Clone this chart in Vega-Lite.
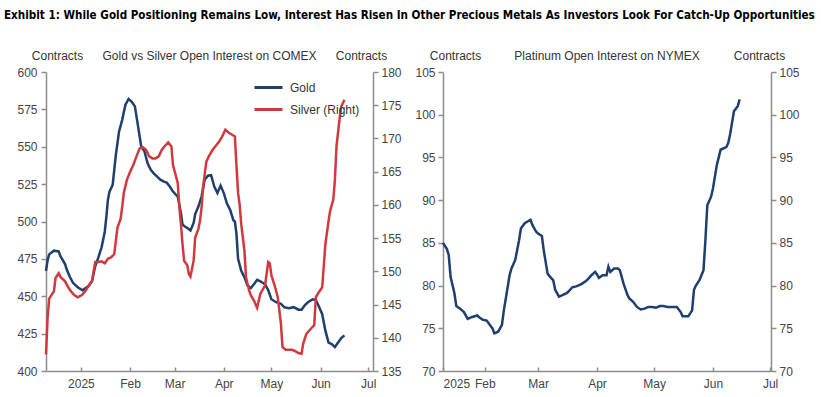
{
  "$schema": "https://vega.github.io/schema/vega-lite/v6.json",
  "padding": {"left": 3, "top": 10, "right": 3, "bottom": 4},
  "title": {"text": "Exhibit 1: While Gold Positioning Remains Low, Interest Has Risen In Other Precious Metals As Investors Look For Catch-Up Opportunities", "anchor": "start", "font": "DejaVu Sans Condensed", "fontSize": 11.6, "fontWeight": "bold", "color": "#000000", "offset": 27, "dx": -13},
  "config": {
    "view": {"stroke": null},
    "font": "Liberation Sans",
    "axis": {"grid": false, "domainColor": "#8c8c8c", "tickColor": "#8c8c8c", "labelColor": "#444444", "labelFontSize": 12, "labelFont": "Liberation Sans", "titleFont": "Liberation Sans", "titleFontSize": 12, "titleFontWeight": "normal", "titleColor": "#333333", "domainWidth": 1.5, "tickWidth": 1.5}
  },
  "datasets": {
    "gold": [
      {"series": "Gold", "date": "2024-12-10", "value": 467},
      {"series": "Gold", "date": "2024-12-11", "value": 474},
      {"series": "Gold", "date": "2024-12-12", "value": 478},
      {"series": "Gold", "date": "2024-12-15", "value": 480.5},
      {"series": "Gold", "date": "2024-12-18", "value": 480},
      {"series": "Gold", "date": "2024-12-19", "value": 477},
      {"series": "Gold", "date": "2024-12-22", "value": 471.5},
      {"series": "Gold", "date": "2024-12-23", "value": 468},
      {"series": "Gold", "date": "2024-12-25", "value": 463},
      {"series": "Gold", "date": "2024-12-27", "value": 459},
      {"series": "Gold", "date": "2024-12-30", "value": 456},
      {"series": "Gold", "date": "2025-01-02", "value": 454},
      {"series": "Gold", "date": "2025-01-04", "value": 455.5},
      {"series": "Gold", "date": "2025-01-06", "value": 457},
      {"series": "Gold", "date": "2025-01-08", "value": 460},
      {"series": "Gold", "date": "2025-01-10", "value": 470},
      {"series": "Gold", "date": "2025-01-12", "value": 476},
      {"series": "Gold", "date": "2025-01-14", "value": 482.7},
      {"series": "Gold", "date": "2025-01-16", "value": 493},
      {"series": "Gold", "date": "2025-01-17", "value": 503},
      {"series": "Gold", "date": "2025-01-18", "value": 514.5},
      {"series": "Gold", "date": "2025-01-19", "value": 520},
      {"series": "Gold", "date": "2025-01-21", "value": 524.5},
      {"series": "Gold", "date": "2025-01-23", "value": 544.6},
      {"series": "Gold", "date": "2025-01-25", "value": 560},
      {"series": "Gold", "date": "2025-01-27", "value": 568},
      {"series": "Gold", "date": "2025-01-29", "value": 578},
      {"series": "Gold", "date": "2025-01-31", "value": 582},
      {"series": "Gold", "date": "2025-02-02", "value": 580},
      {"series": "Gold", "date": "2025-02-04", "value": 577},
      {"series": "Gold", "date": "2025-02-06", "value": 563.6},
      {"series": "Gold", "date": "2025-02-08", "value": 550},
      {"series": "Gold", "date": "2025-02-10", "value": 547},
      {"series": "Gold", "date": "2025-02-12", "value": 539},
      {"series": "Gold", "date": "2025-02-14", "value": 534.6},
      {"series": "Gold", "date": "2025-02-16", "value": 532},
      {"series": "Gold", "date": "2025-02-18", "value": 530},
      {"series": "Gold", "date": "2025-02-20", "value": 528},
      {"series": "Gold", "date": "2025-02-22", "value": 526.8},
      {"series": "Gold", "date": "2025-02-24", "value": 526},
      {"series": "Gold", "date": "2025-02-26", "value": 523.4},
      {"series": "Gold", "date": "2025-02-28", "value": 520},
      {"series": "Gold", "date": "2025-03-03", "value": 516.7},
      {"series": "Gold", "date": "2025-03-05", "value": 505.6},
      {"series": "Gold", "date": "2025-03-06", "value": 498},
      {"series": "Gold", "date": "2025-03-07", "value": 497},
      {"series": "Gold", "date": "2025-03-09", "value": 495.6},
      {"series": "Gold", "date": "2025-03-11", "value": 494},
      {"series": "Gold", "date": "2025-03-13", "value": 499},
      {"series": "Gold", "date": "2025-03-14", "value": 505},
      {"series": "Gold", "date": "2025-03-16", "value": 510},
      {"series": "Gold", "date": "2025-03-18", "value": 516.7},
      {"series": "Gold", "date": "2025-03-20", "value": 528},
      {"series": "Gold", "date": "2025-03-22", "value": 530.6},
      {"series": "Gold", "date": "2025-03-24", "value": 531},
      {"series": "Gold", "date": "2025-03-26", "value": 523.4},
      {"series": "Gold", "date": "2025-03-28", "value": 519},
      {"series": "Gold", "date": "2025-03-30", "value": 524},
      {"series": "Gold", "date": "2025-04-01", "value": 519},
      {"series": "Gold", "date": "2025-04-03", "value": 512},
      {"series": "Gold", "date": "2025-04-05", "value": 507.8},
      {"series": "Gold", "date": "2025-04-07", "value": 501},
      {"series": "Gold", "date": "2025-04-08", "value": 500},
      {"series": "Gold", "date": "2025-04-09", "value": 491.5},
      {"series": "Gold", "date": "2025-04-10", "value": 475},
      {"series": "Gold", "date": "2025-04-12", "value": 467},
      {"series": "Gold", "date": "2025-04-14", "value": 462.7},
      {"series": "Gold", "date": "2025-04-16", "value": 457},
      {"series": "Gold", "date": "2025-04-18", "value": 455.5},
      {"series": "Gold", "date": "2025-04-20", "value": 458},
      {"series": "Gold", "date": "2025-04-22", "value": 461},
      {"series": "Gold", "date": "2025-04-24", "value": 460},
      {"series": "Gold", "date": "2025-04-27", "value": 458},
      {"series": "Gold", "date": "2025-04-29", "value": 454},
      {"series": "Gold", "date": "2025-05-01", "value": 448},
      {"series": "Gold", "date": "2025-05-04", "value": 446},
      {"series": "Gold", "date": "2025-05-07", "value": 445},
      {"series": "Gold", "date": "2025-05-09", "value": 442.7},
      {"series": "Gold", "date": "2025-05-12", "value": 442},
      {"series": "Gold", "date": "2025-05-15", "value": 442.7},
      {"series": "Gold", "date": "2025-05-18", "value": 441},
      {"series": "Gold", "date": "2025-05-20", "value": 441},
      {"series": "Gold", "date": "2025-05-22", "value": 444},
      {"series": "Gold", "date": "2025-05-24", "value": 446},
      {"series": "Gold", "date": "2025-05-27", "value": 448},
      {"series": "Gold", "date": "2025-05-29", "value": 447.5},
      {"series": "Gold", "date": "2025-05-31", "value": 443},
      {"series": "Gold", "date": "2025-06-02", "value": 438},
      {"series": "Gold", "date": "2025-06-04", "value": 427},
      {"series": "Gold", "date": "2025-06-06", "value": 419},
      {"series": "Gold", "date": "2025-06-08", "value": 418},
      {"series": "Gold", "date": "2025-06-10", "value": 416},
      {"series": "Gold", "date": "2025-06-12", "value": 419},
      {"series": "Gold", "date": "2025-06-14", "value": 422},
      {"series": "Gold", "date": "2025-06-16", "value": 423.8}
    ],
    "silver": [
      {"series": "Silver (Right)", "date": "2024-12-10", "value": 137.5},
      {"series": "Silver (Right)", "date": "2024-12-11", "value": 143},
      {"series": "Silver (Right)", "date": "2024-12-12", "value": 145.9},
      {"series": "Silver (Right)", "date": "2024-12-15", "value": 147},
      {"series": "Silver (Right)", "date": "2024-12-16", "value": 149},
      {"series": "Silver (Right)", "date": "2024-12-18", "value": 149.7},
      {"series": "Silver (Right)", "date": "2024-12-19", "value": 149.2},
      {"series": "Silver (Right)", "date": "2024-12-22", "value": 148.5},
      {"series": "Silver (Right)", "date": "2024-12-24", "value": 147.6},
      {"series": "Silver (Right)", "date": "2024-12-26", "value": 146.9},
      {"series": "Silver (Right)", "date": "2024-12-28", "value": 146.4},
      {"series": "Silver (Right)", "date": "2024-12-30", "value": 146.1},
      {"series": "Silver (Right)", "date": "2025-01-02", "value": 146.5},
      {"series": "Silver (Right)", "date": "2025-01-04", "value": 147.1},
      {"series": "Silver (Right)", "date": "2025-01-06", "value": 147.9},
      {"series": "Silver (Right)", "date": "2025-01-08", "value": 148.6},
      {"series": "Silver (Right)", "date": "2025-01-10", "value": 151.4},
      {"series": "Silver (Right)", "date": "2025-01-12", "value": 151.4},
      {"series": "Silver (Right)", "date": "2025-01-14", "value": 151.5},
      {"series": "Silver (Right)", "date": "2025-01-16", "value": 151.2},
      {"series": "Silver (Right)", "date": "2025-01-18", "value": 151.9},
      {"series": "Silver (Right)", "date": "2025-01-20", "value": 152.1},
      {"series": "Silver (Right)", "date": "2025-01-22", "value": 152.6},
      {"series": "Silver (Right)", "date": "2025-01-24", "value": 156.6},
      {"series": "Silver (Right)", "date": "2025-01-26", "value": 157.9},
      {"series": "Silver (Right)", "date": "2025-01-27", "value": 159.7},
      {"series": "Silver (Right)", "date": "2025-01-28", "value": 161.8},
      {"series": "Silver (Right)", "date": "2025-01-30", "value": 163.8},
      {"series": "Silver (Right)", "date": "2025-02-01", "value": 165},
      {"series": "Silver (Right)", "date": "2025-02-03", "value": 166},
      {"series": "Silver (Right)", "date": "2025-02-05", "value": 167.3},
      {"series": "Silver (Right)", "date": "2025-02-07", "value": 168.5},
      {"series": "Silver (Right)", "date": "2025-02-09", "value": 168.7},
      {"series": "Silver (Right)", "date": "2025-02-11", "value": 168.3},
      {"series": "Silver (Right)", "date": "2025-02-13", "value": 167.3},
      {"series": "Silver (Right)", "date": "2025-02-15", "value": 167},
      {"series": "Silver (Right)", "date": "2025-02-17", "value": 167},
      {"series": "Silver (Right)", "date": "2025-02-19", "value": 167.3},
      {"series": "Silver (Right)", "date": "2025-02-21", "value": 168.3},
      {"series": "Silver (Right)", "date": "2025-02-23", "value": 168.9},
      {"series": "Silver (Right)", "date": "2025-02-25", "value": 169.4},
      {"series": "Silver (Right)", "date": "2025-02-27", "value": 168.8},
      {"series": "Silver (Right)", "date": "2025-02-28", "value": 166},
      {"series": "Silver (Right)", "date": "2025-03-03", "value": 163.3},
      {"series": "Silver (Right)", "date": "2025-03-04", "value": 159.7},
      {"series": "Silver (Right)", "date": "2025-03-05", "value": 157.1},
      {"series": "Silver (Right)", "date": "2025-03-06", "value": 154.1},
      {"series": "Silver (Right)", "date": "2025-03-07", "value": 151.6},
      {"series": "Silver (Right)", "date": "2025-03-09", "value": 150.9},
      {"series": "Silver (Right)", "date": "2025-03-10", "value": 149.6},
      {"series": "Silver (Right)", "date": "2025-03-11", "value": 149.2},
      {"series": "Silver (Right)", "date": "2025-03-13", "value": 151.6},
      {"series": "Silver (Right)", "date": "2025-03-14", "value": 155.1},
      {"series": "Silver (Right)", "date": "2025-03-16", "value": 156.4},
      {"series": "Silver (Right)", "date": "2025-03-17", "value": 157.6},
      {"series": "Silver (Right)", "date": "2025-03-18", "value": 159.6},
      {"series": "Silver (Right)", "date": "2025-03-19", "value": 162.8},
      {"series": "Silver (Right)", "date": "2025-03-21", "value": 166.5},
      {"series": "Silver (Right)", "date": "2025-03-23", "value": 167.5},
      {"series": "Silver (Right)", "date": "2025-03-25", "value": 168.3},
      {"series": "Silver (Right)", "date": "2025-03-27", "value": 168.9},
      {"series": "Silver (Right)", "date": "2025-03-29", "value": 169.5},
      {"series": "Silver (Right)", "date": "2025-03-31", "value": 170.3},
      {"series": "Silver (Right)", "date": "2025-04-02", "value": 171.3},
      {"series": "Silver (Right)", "date": "2025-04-04", "value": 170.9},
      {"series": "Silver (Right)", "date": "2025-04-06", "value": 170.6},
      {"series": "Silver (Right)", "date": "2025-04-08", "value": 170.3},
      {"series": "Silver (Right)", "date": "2025-04-09", "value": 165.8},
      {"series": "Silver (Right)", "date": "2025-04-10", "value": 161.8},
      {"series": "Silver (Right)", "date": "2025-04-11", "value": 160},
      {"series": "Silver (Right)", "date": "2025-04-12", "value": 157.1},
      {"series": "Silver (Right)", "date": "2025-04-14", "value": 153.1},
      {"series": "Silver (Right)", "date": "2025-04-15", "value": 149.1},
      {"series": "Silver (Right)", "date": "2025-04-17", "value": 147.1},
      {"series": "Silver (Right)", "date": "2025-04-18", "value": 146.4},
      {"series": "Silver (Right)", "date": "2025-04-20", "value": 145.6},
      {"series": "Silver (Right)", "date": "2025-04-22", "value": 144.5},
      {"series": "Silver (Right)", "date": "2025-04-24", "value": 146.6},
      {"series": "Silver (Right)", "date": "2025-04-27", "value": 147.9},
      {"series": "Silver (Right)", "date": "2025-04-29", "value": 151.4},
      {"series": "Silver (Right)", "date": "2025-04-30", "value": 151.2},
      {"series": "Silver (Right)", "date": "2025-05-01", "value": 149.4},
      {"series": "Silver (Right)", "date": "2025-05-03", "value": 147.9},
      {"series": "Silver (Right)", "date": "2025-05-05", "value": 146.1},
      {"series": "Silver (Right)", "date": "2025-05-07", "value": 142.1},
      {"series": "Silver (Right)", "date": "2025-05-08", "value": 138.6},
      {"series": "Silver (Right)", "date": "2025-05-10", "value": 138.2},
      {"series": "Silver (Right)", "date": "2025-05-12", "value": 138.2},
      {"series": "Silver (Right)", "date": "2025-05-14", "value": 138.2},
      {"series": "Silver (Right)", "date": "2025-05-16", "value": 138},
      {"series": "Silver (Right)", "date": "2025-05-18", "value": 137.7},
      {"series": "Silver (Right)", "date": "2025-05-20", "value": 137.6},
      {"series": "Silver (Right)", "date": "2025-05-21", "value": 139.1},
      {"series": "Silver (Right)", "date": "2025-05-23", "value": 140.6},
      {"series": "Silver (Right)", "date": "2025-05-26", "value": 141.4},
      {"series": "Silver (Right)", "date": "2025-05-28", "value": 141.9},
      {"series": "Silver (Right)", "date": "2025-05-29", "value": 146.1},
      {"series": "Silver (Right)", "date": "2025-05-31", "value": 146.9},
      {"series": "Silver (Right)", "date": "2025-06-02", "value": 147.6},
      {"series": "Silver (Right)", "date": "2025-06-04", "value": 154.1},
      {"series": "Silver (Right)", "date": "2025-06-06", "value": 157.6},
      {"series": "Silver (Right)", "date": "2025-06-07", "value": 159.1},
      {"series": "Silver (Right)", "date": "2025-06-09", "value": 160.8},
      {"series": "Silver (Right)", "date": "2025-06-10", "value": 163.8},
      {"series": "Silver (Right)", "date": "2025-06-11", "value": 168.8},
      {"series": "Silver (Right)", "date": "2025-06-13", "value": 173.1},
      {"series": "Silver (Right)", "date": "2025-06-14", "value": 174.8},
      {"series": "Silver (Right)", "date": "2025-06-16", "value": 175.8}
    ],
    "platinum": [
      {"date": "2025-01-10", "value": 85},
      {"date": "2025-01-12", "value": 84.3},
      {"date": "2025-01-13", "value": 83.6},
      {"date": "2025-01-14", "value": 81},
      {"date": "2025-01-16", "value": 79.1},
      {"date": "2025-01-17", "value": 77.6},
      {"date": "2025-01-19", "value": 77.3},
      {"date": "2025-01-21", "value": 76.9},
      {"date": "2025-01-23", "value": 76.1},
      {"date": "2025-01-25", "value": 76.3},
      {"date": "2025-01-28", "value": 76.5},
      {"date": "2025-01-29", "value": 76.3},
      {"date": "2025-01-31", "value": 76},
      {"date": "2025-02-02", "value": 75.9},
      {"date": "2025-02-03", "value": 75.6},
      {"date": "2025-02-05", "value": 75},
      {"date": "2025-02-06", "value": 74.4},
      {"date": "2025-02-08", "value": 74.6},
      {"date": "2025-02-09", "value": 75},
      {"date": "2025-02-10", "value": 75.4},
      {"date": "2025-02-11", "value": 77.1},
      {"date": "2025-02-13", "value": 79.8},
      {"date": "2025-02-14", "value": 81.2},
      {"date": "2025-02-15", "value": 82},
      {"date": "2025-02-17", "value": 83},
      {"date": "2025-02-19", "value": 85.3},
      {"date": "2025-02-20", "value": 86.7},
      {"date": "2025-02-22", "value": 87.3},
      {"date": "2025-02-25", "value": 87.7},
      {"date": "2025-02-26", "value": 87.1},
      {"date": "2025-02-28", "value": 86.3},
      {"date": "2025-03-01", "value": 86.1},
      {"date": "2025-03-03", "value": 85.8},
      {"date": "2025-03-04", "value": 84.1},
      {"date": "2025-03-06", "value": 81.4},
      {"date": "2025-03-07", "value": 81.1},
      {"date": "2025-03-09", "value": 80.6},
      {"date": "2025-03-10", "value": 79.5},
      {"date": "2025-03-12", "value": 78.7},
      {"date": "2025-03-13", "value": 78.8},
      {"date": "2025-03-16", "value": 79.1},
      {"date": "2025-03-17", "value": 79.3},
      {"date": "2025-03-19", "value": 79.8},
      {"date": "2025-03-21", "value": 79.9},
      {"date": "2025-03-22", "value": 80},
      {"date": "2025-03-24", "value": 80.2},
      {"date": "2025-03-26", "value": 80.5},
      {"date": "2025-03-27", "value": 80.7},
      {"date": "2025-03-29", "value": 81.2},
      {"date": "2025-03-31", "value": 81.6},
      {"date": "2025-04-01", "value": 81.3},
      {"date": "2025-04-02", "value": 80.9},
      {"date": "2025-04-04", "value": 81.2},
      {"date": "2025-04-06", "value": 81.2},
      {"date": "2025-04-07", "value": 82.2},
      {"date": "2025-04-08", "value": 81.6},
      {"date": "2025-04-10", "value": 82},
      {"date": "2025-04-12", "value": 82},
      {"date": "2025-04-13", "value": 81.8},
      {"date": "2025-04-15", "value": 80.2},
      {"date": "2025-04-17", "value": 78.9},
      {"date": "2025-04-18", "value": 78.5},
      {"date": "2025-04-20", "value": 78.1},
      {"date": "2025-04-22", "value": 77.5},
      {"date": "2025-04-24", "value": 77.2},
      {"date": "2025-04-26", "value": 77.3},
      {"date": "2025-04-28", "value": 77.5},
      {"date": "2025-04-30", "value": 77.5},
      {"date": "2025-05-02", "value": 77.4},
      {"date": "2025-05-04", "value": 77.6},
      {"date": "2025-05-06", "value": 77.6},
      {"date": "2025-05-08", "value": 77.5},
      {"date": "2025-05-11", "value": 77.5},
      {"date": "2025-05-13", "value": 77.5},
      {"date": "2025-05-15", "value": 76.9},
      {"date": "2025-05-16", "value": 76.4},
      {"date": "2025-05-18", "value": 76.4},
      {"date": "2025-05-19", "value": 76.4},
      {"date": "2025-05-21", "value": 77.1},
      {"date": "2025-05-22", "value": 79.5},
      {"date": "2025-05-23", "value": 80},
      {"date": "2025-05-25", "value": 80.7},
      {"date": "2025-05-27", "value": 81.8},
      {"date": "2025-05-28", "value": 85.3},
      {"date": "2025-05-29", "value": 89.4},
      {"date": "2025-05-31", "value": 90.4},
      {"date": "2025-06-01", "value": 91.4},
      {"date": "2025-06-03", "value": 94.1},
      {"date": "2025-06-05", "value": 95.9},
      {"date": "2025-06-08", "value": 96.2},
      {"date": "2025-06-09", "value": 96.7},
      {"date": "2025-06-10", "value": 97.7},
      {"date": "2025-06-12", "value": 100.4},
      {"date": "2025-06-14", "value": 101},
      {"date": "2025-06-15", "value": 101.8}
    ]
  },
  "bounds": "flush",
  "spacing": 70,
  "hconcat": [
    {
      "width": 327,
      "height": 299,
      "title": {"text": "Gold vs Silver Open Interest on COMEX", "font": "Liberation Sans", "fontSize": 12, "fontWeight": "normal", "color": "#333333", "offset": -14},
      "encoding": {
        "x": {
          "field": "date", "type": "temporal",
          "scale": {"type": "utc", "domain": [{"year": 2024, "month": 12, "date": 10, "utc": true}, {"year": 2025, "month": 7, "date": 4, "utc": true}]},
          "axis": {
            "title": null,
            "values": [
              {"year": 2025, "month": 1, "date": 1, "utc": true},
              {"year": 2025, "month": 2, "date": 1, "utc": true},
              {"year": 2025, "month": 3, "date": 1, "utc": true},
              {"year": 2025, "month": 4, "date": 1, "utc": true},
              {"year": 2025, "month": 5, "date": 1, "utc": true},
              {"year": 2025, "month": 6, "date": 1, "utc": true},
              {"year": 2025, "month": 7, "date": 1, "utc": true}
            ],
            "labelExpr": "utcmonth(datum.value) == 0 ? '2025' : utcFormat(datum.value, '%b')",
            "tickSize": -4,
            "labelPadding": 11,
            "labelFlush": false
          }
        }
      },
      "layer": [
        {
          "data": {"name": "gold"},
          "mark": {"type": "line", "strokeWidth": 2.5},
          "encoding": {
            "y": {
              "field": "value", "type": "quantitative",
              "scale": {"domain": [400, 600], "nice": false, "zero": false},
              "axis": {"orient": "left", "values": [400, 425, 450, 475, 500, 525, 550, 575, 600], "title": "Contracts", "titleAngle": 0, "titleX": 11, "titleY": -13, "titleAlign": "center", "titleBaseline": "alphabetic", "tickSize": 5, "labelPadding": 4}
            },
            "color": {
              "field": "series", "type": "nominal",
              "scale": {"domain": ["Gold", "Silver (Right)"], "range": ["#1f3f6f", "#cf3a3f"]},
              "legend": {"orient": "none", "legendX": 207, "legendY": 0, "title": null, "symbolType": "stroke", "symbolStrokeWidth": 3, "symbolSize": 784, "labelFontSize": 12, "labelFont": "Liberation Sans", "labelColor": "#333333", "rowPadding": -6, "labelOffset": 6}
            }
          }
        },
        {
          "data": {"name": "silver"},
          "mark": {"type": "line", "strokeWidth": 2.5},
          "encoding": {
            "y": {
              "field": "value", "type": "quantitative",
              "scale": {"domain": [135, 180], "nice": false, "zero": false},
              "axis": {"orient": "right", "values": [135, 140, 145, 150, 155, 160, 165, 170, 175, 180], "title": "Contracts", "titleAngle": 0, "titleX": -12, "titleY": -13, "titleAlign": "center", "titleBaseline": "alphabetic", "tickSize": 5, "labelPadding": 3}
            },
            "color": {"field": "series", "type": "nominal"}
          }
        }
      ],
      "resolve": {"scale": {"y": "independent"}}
    },
    {
      "width": 328,
      "height": 299,
      "title": {"text": "Platinum Open Interest on NYMEX", "font": "Liberation Sans", "fontSize": 12, "fontWeight": "normal", "color": "#333333", "offset": -14},
      "data": {"name": "platinum"},
      "encoding": {
        "x": {
          "field": "date", "type": "temporal",
          "scale": {"type": "utc", "domain": [{"year": 2025, "month": 1, "date": 10, "utc": true}, {"year": 2025, "month": 7, "date": 1, "hours": 12, "utc": true}]},
          "axis": {
            "title": null,
            "values": [
              {"year": 2025, "month": 1, "date": 10, "utc": true},
              {"year": 2025, "month": 2, "date": 1, "utc": true},
              {"year": 2025, "month": 3, "date": 1, "utc": true},
              {"year": 2025, "month": 4, "date": 1, "utc": true},
              {"year": 2025, "month": 5, "date": 1, "utc": true},
              {"year": 2025, "month": 6, "date": 1, "utc": true},
              {"year": 2025, "month": 7, "date": 1, "utc": true}
            ],
            "labelExpr": "utcmonth(datum.value) == 0 ? '2025' : utcFormat(datum.value, '%b')",
            "tickSize": -4,
            "labelPadding": 11,
            "labelFlush": 0.5
          }
        }
      },
      "layer": [
        {
          "mark": {"type": "line", "strokeWidth": 2.5, "color": "#1f3f6f"},
          "encoding": {
            "y": {
              "field": "value", "type": "quantitative",
              "scale": {"domain": [70, 105], "nice": false, "zero": false},
              "axis": {"orient": "left", "values": [70, 75, 80, 85, 90, 95, 100, 105], "title": "Contracts", "titleAngle": 0, "titleX": 12, "titleY": -13, "titleAlign": "center", "titleBaseline": "alphabetic", "tickSize": 5, "labelPadding": 3}
            }
          }
        },
        {
          "mark": {"type": "line", "strokeWidth": 2.5, "strokeOpacity": 0},
          "encoding": {
            "y": {
              "field": "value", "type": "quantitative",
              "scale": {"domain": [70, 105], "nice": false, "zero": false},
              "axis": {"orient": "right", "values": [70, 75, 80, 85, 90, 95, 100, 105], "title": "Contracts", "titleAngle": 0, "titleX": -12, "titleY": -13, "titleAlign": "center", "titleBaseline": "alphabetic", "tickSize": 5, "labelPadding": 3}
            }
          }
        }
      ],
      "resolve": {"scale": {"y": "independent"}}
    }
  ]
}
